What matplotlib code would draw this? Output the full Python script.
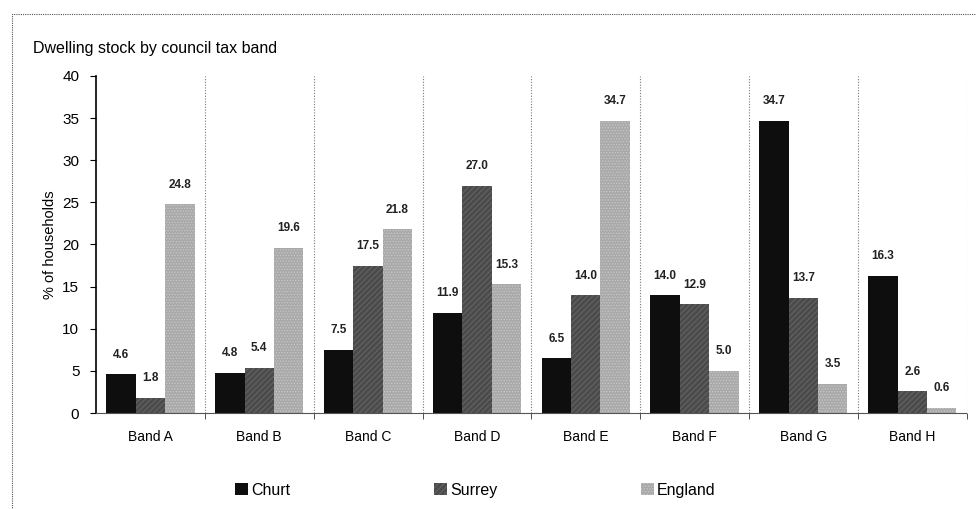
import numpy as np
import matplotlib
matplotlib.use("Agg")
import matplotlib.pyplot as plt
from matplotlib.patches import Rectangle

plt.rcParams['font.family'] = ['Liberation Sans', 'DejaVu Sans']
plt.rcParams['hatch.linewidth'] = 0.6

# dwelling stock share by council tax band (%)
bands = ['Band A', 'Band B', 'Band C', 'Band D', 'Band E', 'Band F', 'Band G', 'Band H']
churt = [4.6, 4.8, 7.5, 11.9, 6.5, 14.0, 34.7, 16.3]
surrey = [1.8, 5.4, 17.5, 27.0, 14.0, 12.9, 13.7, 2.6]
england = [24.8, 19.6, 21.8, 15.3, 34.7, 5.0, 3.5, 0.6]
series_names = ['Churt', 'Surrey', 'England']

fig = plt.figure(figsize=(9.76, 5.09), dpi=100)
ax = fig.add_axes([0.0984, 0.1886, 0.892, 0.6621])

x = np.arange(len(bands))
w = 0.27
colors = ['#0e0e0e', '#4b4b4b', '#a9a9a9']
hatches = ['', '//////', '......']
edges = ['#0e0e0e', '#6a6a6a', '#c8c8c8']
for i, (vals, name) in enumerate(zip([churt, surrey, england], series_names)):
    pos = x + (i - 1) * w
    ax.bar(pos, vals, width=w, color=colors[i], hatch=hatches[i],
           edgecolor=edges[i], linewidth=0, label=name)
    for p, v in zip(pos, vals):
        ax.text(p, v + 1.6, f'{v:.1f}', ha='center', va='bottom',
                fontsize=8.5, fontweight='bold', color='#222222')

ax.set_xlim(-0.5, len(bands) - 0.5)
ax.set_ylim(0, 40)
ax.set_yticks(range(0, 41, 5))
ax.tick_params(axis='y', labelsize=11, length=4, direction='out', pad=8)
ax.set_xticks(x)
ax.set_xticklabels(bands, fontsize=10)
ax.tick_params(axis='x', length=0, pad=12)
ax.set_ylabel('% of households', fontsize=10.5, labelpad=4)

# dotted separators between bands
for b in np.arange(0.5, len(bands), 1.0):
    ax.axvline(b, color='#777777', linestyle=(0, (1, 1.5)), linewidth=0.8)
ax.set_xticks(np.arange(0.5, len(bands), 1.0), minor=True)
ax.tick_params(axis='x', which='minor', length=4, color='#333333')

for s in ['top', 'right']:
    ax.spines[s].set_visible(False)
ax.spines['left'].set_linewidth(1.2)
ax.spines['bottom'].set_linestyle((0, (1, 1)))
ax.spines['bottom'].set_color('#555555')

fig.text(0.034, 0.905, 'Dwelling stock by council tax band', fontsize=11.5,
         ha='left', va='center')

fig.legend(loc='center', bbox_to_anchor=(0.487, 0.037), ncol=3, frameon=False,
           fontsize=11.5, handlelength=0.8, handleheight=0.8, handletextpad=0.2,
           columnspacing=9.0)

# outer dotted frame
fig.patches.append(Rectangle((0.012, -0.02), 1.0, 0.992, transform=fig.transFigure,
                             fill=False, linestyle=(0, (1, 1)), linewidth=0.8,
                             edgecolor='#555555'))

plt.savefig('out.png', dpi=100)
